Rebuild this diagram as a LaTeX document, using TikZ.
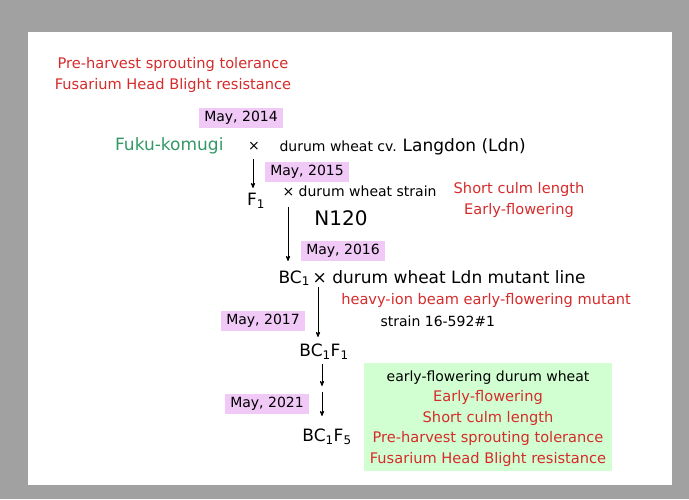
\documentclass[tikz,border=0pt]{standalone}
\usepackage{fontspec}
\setmainfont{DejaVu Sans}
\usetikzlibrary{arrows,positioning}
\definecolor{framegray}{rgb}{0.63,0.63,0.63}
\definecolor{datepink}{rgb}{0.94,0.79,0.97}
\definecolor{traitred}{rgb}{0.84,0.17,0.17}
\definecolor{fukugreen}{rgb}{0.2,0.6,0.4}
\definecolor{resultgreen}{rgb}{0.82,1,0.82}

\begin{document}
\begin{tikzpicture}[x=1pt,y=-1pt,>=stealth',
  date/.style={fill=datepink,inner xsep=5pt,inner ysep=3.5pt,font=\fontsize{14}{16}\selectfont},
  trait/.style={text=traitred,align=center,font=\fontsize{14.6}{20.5}\selectfont},
  plain/.style={font=\fontsize{14}{16}\selectfont},
  line/.style={font=\fontsize{17}{20}\selectfont},
  gen/.style={->,thick}]
% frame
\fill[framegray] (0,0) rectangle (689,499);
\fill[white] (28,32) rectangle (672,485);

% parents and traits
\node[trait] (fukutraits) at (173,75) {Pre-harvest sprouting tolerance\\Fusarium Head Blight resistance};
\node[date] (d2014) at (241,118) {May, 2014};
\node[line,text=fukugreen,anchor=east] (fuku) at (227,146) {Fuku-komugi};
\node[plain] (cross1) at (254,146) {×};
\node[anchor=west] (ldn) at (276,147) {\fontsize{14}{16}\selectfont durum wheat cv. \fontsize{17}{20}\selectfont Langdon (Ldn)};

\node[date] (d2015) at (307,172) {May, 2015};
\node[line] (f1) at (256,201) {F\textsubscript{1}};
\node[plain,anchor=west] (cross2) at (279,191) {× durum wheat strain};
\node[font=\fontsize{20}{24}\selectfont] (n120) at (341,218) {N120};
\node[trait] (n120traits) at (519,200) {Short culm length\\Early-flowering};

\node[date] (d2016) at (343,251) {May, 2016};
\node[line,anchor=west] (bc1) at (275,278) {BC\textsubscript{1}\,× durum wheat Ldn mutant line};
\node[trait] (mutant) at (486,300) {heavy-ion beam early-flowering mutant};
\node[plain,anchor=west] (strain) at (377,321) {strain 16-592\#1};

\node[date] (d2017) at (263,321) {May, 2017};
\node[line] (bc1f1) at (324,352) {BC\textsubscript{1}F\textsubscript{1}};
\node[date] (d2021) at (267,404) {May, 2021};
\node[line] (bc1f5) at (327,437) {BC\textsubscript{1}F\textsubscript{5}};

% result
\fill[resultgreen] (364,363) rectangle (612,471);
\node[plain] (result) at (488,378) {early-flowering durum wheat};
\node[trait,below=-1pt of result] (resulttraits) {Early-flowering\\Short culm length\\Pre-harvest sprouting tolerance\\Fusarium Head Blight resistance};

% crosses
\coordinate (a1s) at (253,159);
\coordinate (a1e) at (253,188);
\coordinate (a2s) at (288,207);
\coordinate (a2e) at (288,261);
\coordinate (a3s) at (318,287);
\coordinate (a3e) at (318,337);
\coordinate (a4s) at (322,364);
\coordinate (a4e) at (322,386);
\coordinate (a5s) at (322,392);
\coordinate (a5e) at (322,416);
\foreach \s/\e in {a1s/a1e,a2s/a2e,a3s/a3e,a4s/a4e,a5s/a5e}
  \draw[gen] (\s) -- (\e);
\end{tikzpicture}
\end{document}
